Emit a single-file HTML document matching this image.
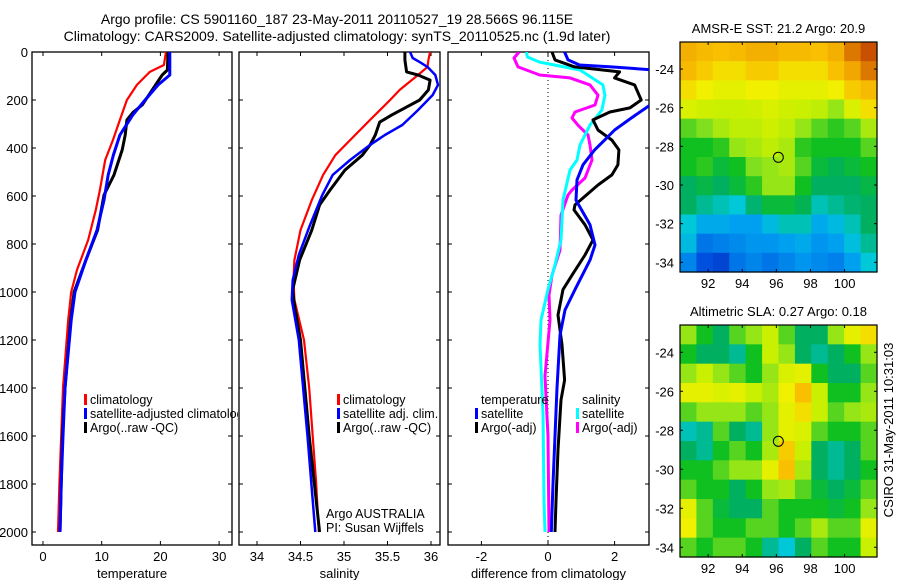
<!DOCTYPE html>
<html><head><meta charset="utf-8">
<style>
html,body{margin:0;padding:0;background:#fff;}
svg{display:block;font-family:"Liberation Sans",Arial,sans-serif;}
</style></head>
<body>
<svg id="chart" width="900" height="580" viewBox="0 0 900 580" xmlns="http://www.w3.org/2000/svg">
<rect x="0" y="0" width="900" height="580" fill="#fff"/>
<text x="337" y="24" font-size="14" text-anchor="middle">Argo profile: CS 5901160_187 23-May-2011 20110527_19 28.566S 96.115E</text>
<text x="337" y="41" font-size="14" text-anchor="middle">Climatology: CARS2009. Satellite-adjusted climatology: synTS_20110525.nc (1.9d later)</text>
<g id="g"></g>
<text transform="translate(893,430) rotate(-90)" font-size="13" text-anchor="middle">CSIRO 31-May-2011 10:31:03</text>
</svg>
<script>
// ---------- data ----------
const depthTicks=[0,200,400,600,800,1000,1200,1400,1600,1800,2000];
const tempTicks=[0,10,20,30];
const salTicks=[34,34.5,35,35.5,36];
const diffTicks=[-2,0,2];
const lonTicks=[92,94,96,98,100];
const latTicks=[-24,-26,-28,-30,-32,-34];

const tClimD=[0,54,83,137,200,283,367,450,575,658,783,908,1000,1117,1400,1600,1800,2000];
const tClimV=[20.95,20.6,18.2,16,14.3,13.1,11.9,10.6,9.7,9,7.7,5.8,4.8,4.3,3.4,3.1,2.8,2.55];
const tSatD=[0,96,137,200,262,346,429,512,617,742,867,1000,1117,1400,1600,1800,2000];
const tSatV=[21.6,21.6,19.6,17.4,15.3,13.1,12,11.1,10.4,9.2,7.3,5.45,4.8,3.75,3.4,3.1,2.9];
const tArgoD=[0,75,96,158,221,250,283,346,408,512,596,742,867,1000,1117,1400,1600,1800,2000];
const tArgoV=[21.3,21.2,20.3,18.6,16.9,15.4,14.3,14,13.5,12.1,10.4,9.3,7.3,5.3,4.7,3.75,3.3,3.1,2.9];

const sClimD=[0,33,62,96,158,200,283,367,430,512,617,742,867,950,1033,1200,1400,1600,1800,2000];
const sClimV=[35.99,35.97,35.96,35.85,35.64,35.53,35.3,35.07,34.9,34.76,34.63,34.5,34.43,34.42,34.43,34.54,34.6,34.64,34.68,34.71];
const sSatD=[0,25,42,62,96,137,179,242,304,346,387,450,512,596,720,846,950,1033,1200,1600,2000];
const sSatV=[35.76,35.79,35.87,35.96,36.05,36.08,36.02,35.85,35.67,35.47,35.3,35.07,34.87,34.75,34.61,34.48,34.41,34.4,34.48,34.58,34.67];
const sArgoD=[0,33,83,96,117,158,200,233,262,292,346,387,430,492,575,637,742,867,990,1054,1200,1600,2000];
const sArgoV=[35.7,35.7,35.72,35.85,35.99,35.97,35.87,35.7,35.55,35.41,35.36,35.3,35.21,35.01,34.84,34.72,34.63,34.49,34.41,34.43,34.5,34.6,34.72];

const dTSatD=[0,33,54,62,75,208,275,325,367,408,470,533,617,720,804,867,990,1075,1180,1400,1600,1800,2000];
const dTSatV=[0.5,0.6,0.95,1.9,3.2,3.2,2.5,2.0,1.7,1.4,1.05,0.87,0.84,1.26,1.41,1.26,0.81,0.51,0.36,0.27,0.21,0.15,0.1];
const dTArgoD=[0,33,62,83,96,108,137,200,233,250,283,325,367,408,470,512,554,637,658,720,783,846,930,990,1096,1220,1367,1450,1658,1870,2000];
const dTArgoV=[0.12,0.21,0.8,2.15,2.07,2.0,2.6,2.8,2.46,1.86,1.35,1.5,1.92,2.13,2.1,1.92,1.5,0.81,0.78,1.11,1.35,1.11,0.72,0.45,0.3,0.42,0.5,0.39,0.3,0.24,0.21];
const dSSatD=[0,21,42,75,137,180,242,304,387,450,492,617,783,887,990,1117,1220,1504,1867,2000];
const dSSatV=[-0.65,-0.62,-0.25,0.96,1.65,1.71,1.62,1.26,0.96,0.87,0.66,0.45,0.39,0.21,0.0,-0.21,-0.24,-0.15,-0.12,-0.09];
const dSArgoD=[0,25,62,96,108,137,180,221,250,275,305,346,387,450,525,575,596,680,825,930,1012,1117,1350,1600,2000];
const dSArgoV=[-0.87,-1.02,-0.9,-0.25,0.66,1.26,1.5,1.41,0.81,0.72,0.9,1.2,1.26,1.32,1.11,0.72,0.6,0.39,0.36,0.12,0.03,0.06,-0.09,0.0,0.03];

const sstGrid=[
[0.85,0.82,0.8,0.82,0.85,0.85,0.82,0.82,0.8,0.85,0.95,1.0],
[0.82,0.78,0.75,0.75,0.78,0.78,0.75,0.75,0.75,0.8,0.88,0.95],
[0.75,0.72,0.7,0.7,0.72,0.72,0.7,0.7,0.7,0.72,0.78,0.82],
[0.68,0.66,0.65,0.65,0.66,0.68,0.66,0.65,0.64,0.6,0.68,0.75],
[0.55,0.58,0.62,0.64,0.64,0.66,0.64,0.6,0.55,0.52,0.55,0.62],
[0.5,0.5,0.52,0.6,0.62,0.64,0.62,0.52,0.5,0.5,0.5,0.55],
[0.5,0.52,0.48,0.5,0.58,0.6,0.62,0.55,0.48,0.46,0.48,0.5],
[0.45,0.47,0.45,0.48,0.52,0.6,0.6,0.5,0.45,0.45,0.45,0.47],
[0.45,0.42,0.4,0.38,0.44,0.48,0.48,0.46,0.4,0.42,0.44,0.45],
[0.38,0.32,0.32,0.3,0.3,0.35,0.4,0.4,0.32,0.35,0.4,0.45],
[0.35,0.22,0.24,0.26,0.28,0.28,0.3,0.32,0.28,0.3,0.36,0.42],
[0.25,0.15,0.12,0.22,0.25,0.22,0.25,0.28,0.26,0.24,0.3,0.38]];
const slaGrid=[
[0.6,0.5,0.45,0.55,0.6,0.65,0.55,0.45,0.45,0.6,0.7,0.75],
[0.5,0.45,0.45,0.42,0.5,0.65,0.6,0.45,0.42,0.45,0.5,0.6],
[0.6,0.65,0.6,0.55,0.5,0.6,0.68,0.7,0.5,0.45,0.45,0.55],
[0.7,0.7,0.68,0.7,0.65,0.62,0.72,0.8,0.65,0.5,0.5,0.6],
[0.55,0.6,0.6,0.6,0.55,0.6,0.7,0.75,0.65,0.55,0.6,0.62],
[0.4,0.42,0.55,0.45,0.42,0.6,0.7,0.68,0.55,0.5,0.5,0.55],
[0.45,0.42,0.5,0.55,0.5,0.62,0.78,0.65,0.45,0.42,0.45,0.55],
[0.5,0.5,0.55,0.6,0.6,0.7,0.8,0.62,0.45,0.42,0.45,0.5],
[0.55,0.5,0.5,0.45,0.5,0.6,0.62,0.55,0.48,0.45,0.48,0.55],
[0.7,0.55,0.48,0.45,0.45,0.55,0.5,0.5,0.5,0.48,0.5,0.6],
[0.72,0.55,0.5,0.5,0.55,0.55,0.5,0.55,0.62,0.55,0.55,0.7],
[0.55,0.5,0.55,0.55,0.5,0.42,0.38,0.45,0.55,0.5,0.5,0.65]];
const argoLon=96.115, argoLat=-28.566;

// ---------- drawing ----------
const NS='http://www.w3.org/2000/svg';
const G=document.getElementById('g');
function mk(tag,attrs,parent){const e=document.createElementNS(NS,tag);for(const k in attrs)e.setAttribute(k,attrs[k]);(parent||G).appendChild(e);return e;}
const Y0=52,Y1=532,PB=545,PT=52;
const yD=d=>Y0+(Y1-Y0)*d/2000;

const panels=[
 {x0:32,x1:232,sx:v=>43+5.87*v,ticks:tempTicks,label:'temperature',name:'temperature-panel'},
 {x0:239,x1:440,sx:v=>257+87*(v-34),ticks:salTicks,label:'salinity',name:'salinity-panel'},
 {x0:448,x1:649,sx:v=>548+33.3*v,ticks:diffTicks,label:'difference from climatology',name:'difference-panel'}
];
panels.forEach((p,i)=>{
  const r=mk('rect',{x:p.x0,y:PT,width:p.x1-p.x0,height:PB-PT,fill:'none',stroke:'#000','stroke-width':1.3});
  
  
  depthTicks.forEach(d=>{
    const y=yD(d);
    mk('line',{x1:p.x0,x2:p.x0+4,y1:y,y2:y,stroke:'#000'});
    mk('line',{x1:p.x1,x2:p.x1-4,y1:y,y2:y,stroke:'#000'});
    if(i===0){const t=mk('text',{x:28,y:y+5,'font-size':13,'text-anchor':'end'});t.textContent=d;
      
      }
  });
  p.ticks.forEach(v=>{
    const x=p.sx(v);
    mk('line',{x1:x,x2:x,y1:PB,y2:PB-4,stroke:'#000'});
    mk('line',{x1:x,x2:x,y1:PT,y2:PT+4,stroke:'#000'});
    const t=mk('text',{x:x,y:PB+16,'font-size':13,'text-anchor':'middle'});t.textContent=v;
    
    
  });
  const lt=mk('text',{x:(p.x0+p.x1)/2,y:PB+33,'font-size':13,'text-anchor':'middle'});lt.textContent=p.label;
  
  
  const cp=mk('clipPath',{id:'clip'+i});mk('rect',{x:p.x0,y:PT,width:p.x1-p.x0,height:PB-PT},cp);
});
const lcp=mk('clipPath',{id:'legclip'});mk('rect',{x:0,y:0,width:238,height:580},lcp);
mk('line',{x1:548,x2:548,y1:PT,y2:PB,stroke:'#000','stroke-dasharray':'1,3','stroke-width':1});

function series(pi,D,V,color,w,name){
  const p=panels[pi];
  const pts=D.map((d,k)=>p.sx(V[k]).toFixed(1)+','+yD(d).toFixed(1)).join(' ');
  const e=mk('polyline',{points:pts,fill:'none',stroke:color,'stroke-width':w,'stroke-linejoin':'round','clip-path':'url(#clip'+pi+')'});
  
  
}
series(0,tClimD,tClimV,'#f00',2.2,'temp-climatology-line');
series(0,tArgoD,tArgoV,'#000',3,'temp-argo-line');
series(0,tSatD,tSatV,'#00f',3,'temp-satellite-line');
series(1,sClimD,sClimV,'#f00',2.2,'sal-climatology-line');
series(1,sArgoD,sArgoV,'#000',3,'sal-argo-line');
series(1,sSatD,sSatV,'#00f',2.5,'sal-satellite-line');
series(2,dSArgoD,dSArgoV,'#f0f',3,'diff-sal-argo-line');
series(2,dSSatD,dSSatV,'#0ff',3,'diff-sal-satellite-line');
series(2,dTArgoD,dTArgoV,'#000',3,'diff-temp-argo-line');
series(2,dTSatD,dTSatV,'#00f',3,'diff-temp-satellite-line');

function legend(x,y,color,text,name,clip){
  if(color){const m=mk('rect',{x:x-6,y:y-10,width:3,height:11,fill:color});
    
    }
  const a={x:x,y:y,'font-size':12.5};if(clip)a['clip-path']='url(#legclip)';
  const t=mk('text',a);t.textContent=text;
  
  
}
legend(90,404,'#f00','climatology','legend-climatology',true);
legend(90,418,'#00f','satellite-adjusted climatology','legend-satellite',true);
legend(90,432,'#000','Argo(..raw -QC)','legend-argo',true);
legend(343,404,'#f00','climatology','legend-sal-climatology');
legend(343,418,'#00f','satellite adj. clim.','legend-sal-satellite');
legend(343,432,'#000','Argo(..raw -QC)','legend-sal-argo');
legend(326,518,null,'Argo AUSTRALIA','argo-australia-label');
legend(326,532,null,'PI: Susan Wijffels','pi-label');
legend(481,404,null,'temperature','legend-temperature-header');
legend(481,418,'#00f','satellite','legend-diff-temp-satellite');
legend(481,432,'#000','Argo(-adj)','legend-diff-temp-argo');
legend(582,404,null,'salinity','legend-salinity-header');
legend(582,418,'#0ff','satellite','legend-diff-sal-satellite');
legend(582,432,'#f0f','Argo(-adj)','legend-diff-sal-argo');

const stops=[[0,[0,32,160]],[0.15,[0,80,224]],[0.3,[0,160,240]],[0.38,[0,200,216]],[0.45,[0,176,96]],[0.5,[16,192,32]],[0.58,[128,224,32]],[0.65,[200,240,0]],[0.72,[240,240,0]],[0.8,[248,192,0]],[0.9,[240,160,0]],[1,[200,80,0]]];
function cmap(v){for(let i=1;i<stops.length;i++){if(v<=stops[i][0]){const a=stops[i-1],b=stops[i];const f=(v-a[0])/(b[0]-a[0]);return 'rgb('+a[1].map((c,k)=>Math.round(c+(b[1][k]-c)*f)).join(',')+')';}}return 'rgb(200,80,0)';}

function drawMap(grid,top,bot,latTop,latBot,title,name){
  const x0=680,x1=877,lonL=90.35,lonR=101.9;
  const sx=lon=>x0+(lon-lonL)/(lonR-lonL)*(x1-x0);
  const sy=lat=>top+(latTop-lat)/(latTop-latBot)*(bot-top);
  const nr=grid.length,nc=grid[0].length;
  const cw=(x1-x0)/nc,ch=(bot-top)/nr;
  grid.forEach((row,r)=>row.forEach((v,c)=>{
    const cell=mk('rect',{x:(x0+c*cw).toFixed(2),y:(top+r*ch).toFixed(2),width:(cw+0.6).toFixed(2),height:(ch+0.6).toFixed(2),fill:cmap(v)});
    
    
  }));
  const f=mk('rect',{x:x0,y:top,width:x1-x0,height:bot-top,fill:'none',stroke:'#000','stroke-width':1.2});
  
  
  lonTicks.forEach(l=>{const x=sx(l);
    mk('line',{x1:x,x2:x,y1:top,y2:top+3,stroke:'#000'});mk('line',{x1:x,x2:x,y1:bot,y2:bot-3,stroke:'#000'});
    const t=mk('text',{x:x,y:bot+16,'font-size':13,'text-anchor':'middle'});t.textContent=l;
    
    });
  latTicks.forEach(l=>{const y=sy(l);
    mk('line',{x1:x0,x2:x0+3,y1:y,y2:y,stroke:'#000'});mk('line',{x1:x1,x2:x1-3,y1:y,y2:y,stroke:'#000'});
    const t=mk('text',{x:x0-6,y:y+5,'font-size':13,'text-anchor':'end'});t.textContent=l;
    
    });
  const c=mk('circle',{cx:sx(argoLon),cy:sy(argoLat),r:5,fill:'none',stroke:'#000','stroke-width':1});
  
  
  const t=mk('text',{x:(x0+x1)/2,y:top-9,'font-size':13,'text-anchor':'middle'});t.textContent=title;
  
  
}
drawMap(sstGrid,42,272,-22.6,-34.5,'AMSR-E SST: 21.2 Argo: 20.9','sst-map');
drawMap(slaGrid,325,557,-22.6,-34.5,'Altimetric SLA: 0.27 Argo: 0.18','sla-map');
</script>
</body></html>
